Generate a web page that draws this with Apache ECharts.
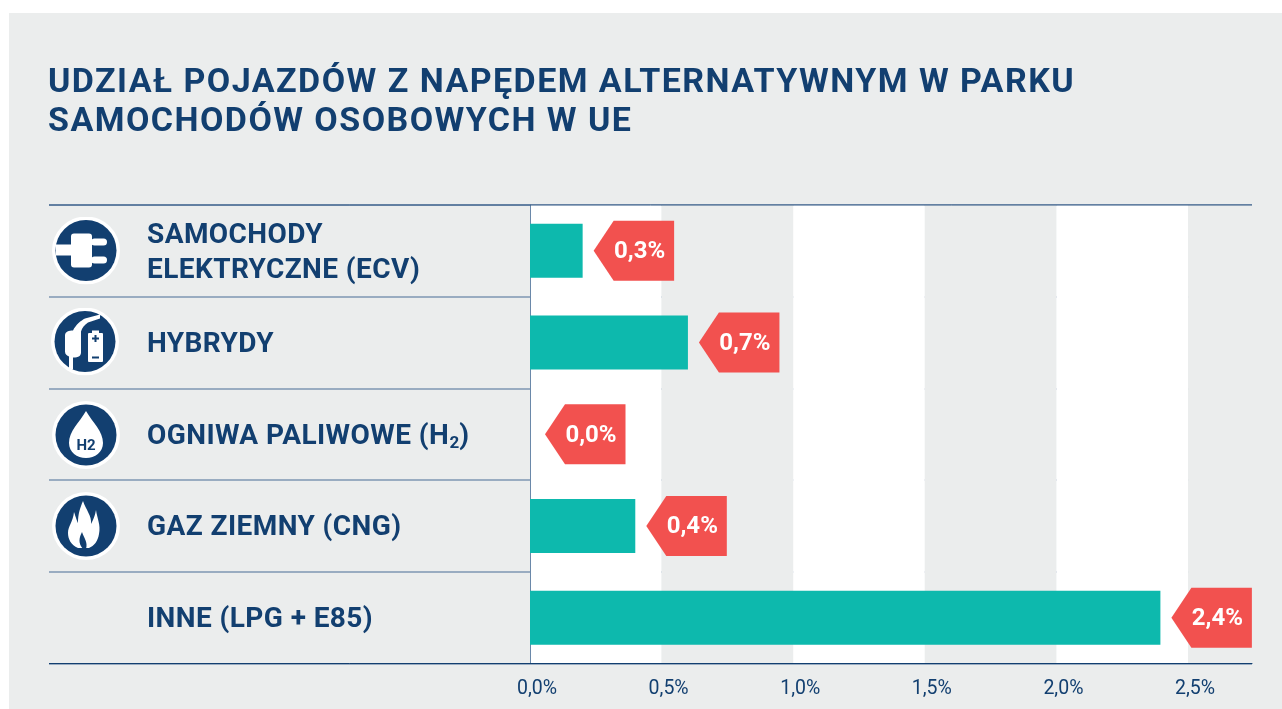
<!DOCTYPE html>
<html><head><meta charset="utf-8">
<style>html,body{margin:0;padding:0;background:#fff}#c{width:1282px;height:709px}</style>
<script src="https://cdn.jsdelivr.net/npm/echarts@6/dist/echarts.min.js"></script>
</head><body><div id="c"></div>
<script>
const titleText = 'UDZIAŁ POJAZDÓW Z NAPĘDEM ALTERNATYWNYM W PARKU\nSAMOCHODÓW OSOBOWYCH W UE';
const categories = ['SAMOCHODY\nELEKTRYCZNE (ECV)','HYBRYDY','OGNIWA PALIWOWE (H{sub|2}{a|)}','GAZ ZIEMNY (CNG)','INNE (LPG + E85)'];
const barValues = [0.2,0.6,0,0.4,2.395];
const calloutLabels = ['0,3%','0,7%','0,0%','0,4%','2,4%'];
const navy='#123f70', grey='#ebeded', teal='#0db9ad', red='#f2514f';
// Title and row labels in the reference are letter-spaced
const origFill = CanvasRenderingContext2D.prototype.fillText;
CanvasRenderingContext2D.prototype.fillText = function(t,x,y,m){
  this.letterSpacing = /bold 34px/.test(this.font) ? '1.45px' : /bold 28px/.test(this.font) ? '0.42px' : '0px';
  return m===undefined ? origFill.call(this,t,x,y) : origFill.call(this,t,x,y,m);
};
const chart = echarts.init(document.getElementById('c'),null,{renderer:'canvas'});
function svgImg(inner){
  return 'data:image/svg+xml;charset=utf-8,'+encodeURIComponent('<svg xmlns="http://www.w3.org/2000/svg" width="68" height="68" viewBox="-34 -34 68 68"><circle r="34" fill="#fff"/><circle r="30.5" fill="'+navy+'"/>'+inner+'</svg>');
}
function icon(cx,cy,inner,extra){
  return {type:'group',x:cx,y:cy,z:20,silent:true,children:[
    {type:'image',style:{image:svgImg(inner),x:-34,y:-34,width:68,height:68}}
  ].concat(extra||[])};
}
const plug='<g fill="#fff"><rect x="-30" y="-6" width="16" height="11"/><rect x="-15" y="-17" width="21" height="34" rx="3"/><rect x="5" y="-12" width="16" height="7" rx="3.5"/><rect x="5" y="6" width="16" height="7" rx="3.5"/></g>';
const hybrid='<g fill="#fff"><path d="M-20 -6 C-20 -10 -16 -11 -12 -11 C-9 -17 -4 -21 0 -23 L15 -27 L15 -23 L3 -19 C0 -17 -3 -14 -4 -10 L-4 11 C-4 14 -6 16 -12 16 L-12 28 L-16 27 L-16 15 C-18 14 -20 13 -20 10 Z"/><rect x="3" y="-8.5" width="15" height="29" rx="1"/><rect x="7" y="-11" width="7" height="3"/></g><g fill="'+navy+'"><rect x="7" y="-4" width="7" height="2"/><rect x="9.5" y="-6.5" width="2" height="7"/><rect x="7" y="15" width="7" height="2"/></g>';
const drop='<path fill="#fff" d="M0 -24 C7 -12 17 -4 17 8 C17 17 9 23 0 23 C-9 23 -17 17 -17 8 C-17 -4 -7 -12 0 -24 Z"/>';
const flame='<path fill="#fff" d="M-3 -25 C0 -16 6 -10 5 -2 C7 -6 9 -10 10 -16 C11 -8 15 -1 13 8 C12 15 8 20 3 22 L-8 22 C-15 19 -18 13 -18 7 C-18 0 -13 -4 -12 -14 C-10 -8 -9 -5 -8 -3 C-8 -12 -6 -18 -3 -25 Z"/><path fill="'+navy+'" d="M-3 23 C-8 17 -7 12 -4 6 C-2 12 2 16 0 23 Z"/>';
const h2Text=[{type:'text',style:{text:'H2',x:0,y:11,fill:navy,font:'bold 15px Roboto',align:'center',verticalAlign:'middle'}}];
const option={
 animation:false,
 backgroundColor:'#fff',
 textStyle:{fontFamily:'Roboto'},
 title:{text:titleText,left:48,top:63.5,padding:0,
   textStyle:{fontFamily:'Roboto',fontWeight:'bold',fontSize:34,lineHeight:39,color:navy}},
 grid:{left:530,right:30,top:205,bottom:45.5,containLabel:false},
 xAxis:{type:'value',min:0,max:2.743,interval:0.5,
   axisLine:{show:true,onZero:false,lineStyle:{color:navy,width:1}},axisTick:{show:false},
   splitLine:{show:false},
   splitArea:{show:true,areaStyle:{color:['#ffffff',grey]}},
   axisLabel:{color:navy,fontFamily:'Roboto',fontSize:19.5,margin:16,padding:[0,0,0,14],showMaxLabel:false,
     formatter:v=>v.toFixed(1).replace('.',',')+'%'}},
 yAxis:{type:'category',inverse:true,data:categories,
   axisLine:{show:true,lineStyle:{color:'#6a88a9',width:1}},
   axisTick:{show:true,length:481,inside:false,lineStyle:{color:'#7f97b3',width:1.5}},
   splitLine:{show:true,lineStyle:{color:'#7f97b3',width:1.5}},
   axisLabel:{align:'left',margin:383,color:navy,fontFamily:'Roboto',fontWeight:'bold',fontSize:28,lineHeight:35,padding:[5,0,0,0],
     rich:{a:{color:navy,fontFamily:'Roboto',fontWeight:'bold',fontSize:28,lineHeight:35},
           sub:{color:navy,fontFamily:'Roboto',fontWeight:'bold',fontSize:17,lineHeight:35,padding:[14,0,0,8]}}}},
 series:[
  {type:'bar',data:barValues,barWidth:54,itemStyle:{color:teal},z:3,silent:true},
  {type:'custom',z:4,silent:true,clip:false,coordinateSystem:'cartesian2d',encode:{x:0,y:1},
   data:barValues.map((v,i)=>[v,i,calloutLabels[i]]),
   renderItem(params,api){
     const v=api.value(0), p=api.coord([v,api.value(1)]);
     const x=p[0]+(v===0?15:11), y=p[1], w=80.5, h=60, n=20;
     return {type:'group',children:[
       {type:'polygon',shape:{points:[[x,y],[x+n,y-h/2],[x+w,y-h/2],[x+w,y+h/2],[x+n,y+h/2]]},style:{fill:red}},
       {type:'text',style:{text:calloutLabels[params.dataIndex],x:x+n+26,y:y+1.5,fill:'#fff',font:'bold 24px Roboto',align:'center',verticalAlign:'middle'}}
     ]};
   }}
 ],
 graphic:[
  {type:'rect',z:-100,zlevel:-1,silent:true,shape:{x:9,y:13,width:1273,height:696},style:{fill:grey}},
  {type:'line',z:10,shape:{x1:49,y1:205,x2:1252,y2:205},style:{stroke:'#2d5582',lineWidth:1}},
  {type:'line',z:10,shape:{x1:49,y1:663.5,x2:1252,y2:663.5},style:{stroke:navy,lineWidth:1}},
  icon(86,250.5,plug),icon(85,341.5,hybrid),icon(86,435,drop,h2Text),icon(86,526,flame)
 ]
};
chart.setOption(option);
</script></body></html>
